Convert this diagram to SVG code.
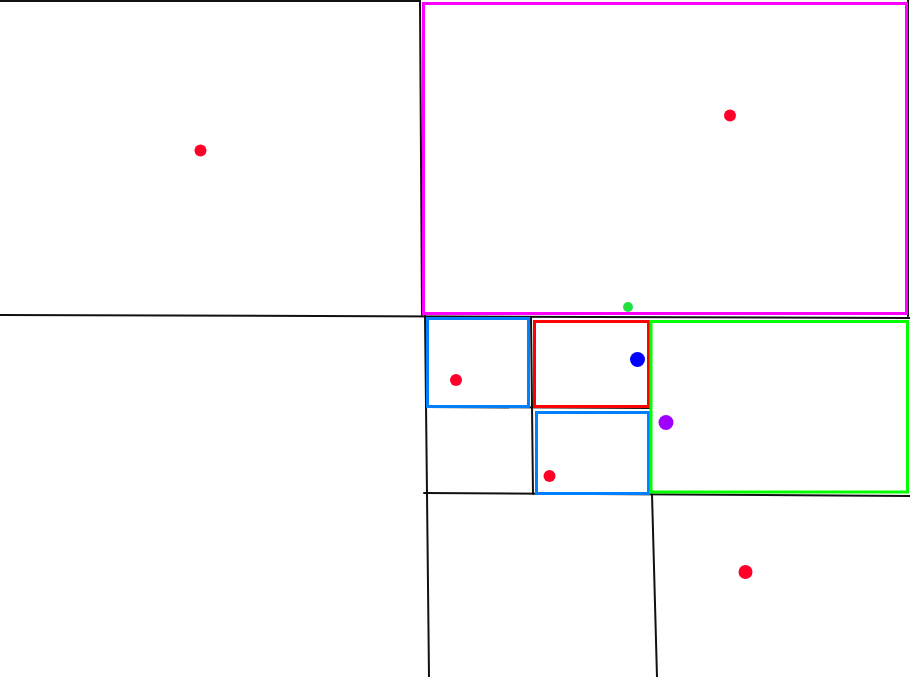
<svg xmlns="http://www.w3.org/2000/svg" width="910" height="677" viewBox="0 0 910 677">
<style>
.ln{stroke:#111;stroke-width:2;fill:none;stroke-linecap:round}
.bx{fill:none;stroke-width:3}
.dot{stroke:none}
</style>
<rect width="910" height="677" fill="#fff"/>
<g id="grid">
<path class="ln" d="M0 1 L420 1"/>
<path class="ln" d="M420 0 L422 315"/>
<path class="ln" d="M0 315 L910 318"/>
<path class="ln" d="M425 316 L427 494"/>
<path class="ln" d="M531 317 L533 494"/>
<path class="ln" d="M426 407 L650 408"/>
<path class="ln" d="M424 493 L910 496"/>
<path class="ln" d="M427 494 L429 677"/>
<path class="ln" d="M652 494 L657 677"/>
<path class="ln" d="M908 0 L908 316"/>
</g>
<g id="boxes">
<rect id="magenta" class="bx" x="423.5" y="3.5" width="483" height="310" stroke="#ff00ff"/>
<rect id="blue1" class="bx" x="427.5" y="318.5" width="101" height="88" stroke="#0080ff"/>
<rect id="red" class="bx" x="534.5" y="321.5" width="114" height="85" stroke="#ff0000"/>
<rect id="blue2" class="bx" x="536.5" y="412.5" width="112" height="81" stroke="#0080ff"/>
<rect id="green" class="bx" x="651" y="321.5" width="256.5" height="170.5" stroke="#00ff00"/>
</g>
<g id="points">
<circle class="dot" cx="200.5" cy="150.5" r="6" fill="#ff0028"/>
<circle class="dot" cx="730" cy="115.5" r="6" fill="#ff0028"/>
<circle class="dot" cx="628" cy="307" r="5" fill="#22e040"/>
<circle class="dot" cx="637.5" cy="359.5" r="7.5" fill="#0000ff"/>
<circle class="dot" cx="456" cy="380" r="6" fill="#ff0028"/>
<circle class="dot" cx="666" cy="422.5" r="7.5" fill="#a000ff"/>
<circle class="dot" cx="549.5" cy="476" r="6" fill="#ff0028"/>
<circle class="dot" cx="745.5" cy="572" r="7" fill="#ff0028"/>
</g>
</svg>
